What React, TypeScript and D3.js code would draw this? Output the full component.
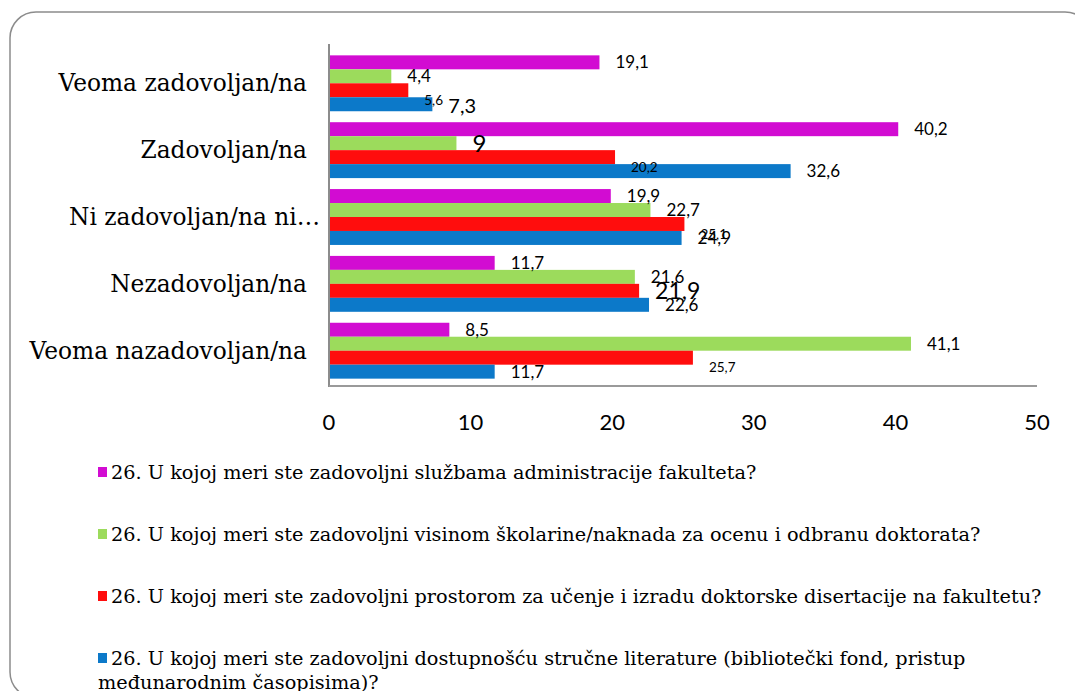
import React from 'react'
import { scaleLinear, scaleBand } from 'd3'

const categories = [
  'Veoma zadovoljan/na',
  'Zadovoljan/na',
  'Ni zadovoljan/na ni…',
  'Nezadovoljan/na',
  'Veoma nazadovoljan/na'
]

const seriesNames = [
  '26. U kojoj meri ste zadovoljni službama administracije fakulteta?',
  '26. U kojoj meri ste zadovoljni visinom školarine/naknada za ocenu i odbranu doktorata?',
  '26. U kojoj meri ste zadovoljni prostorom za učenje i izradu doktorske disertacije na fakultetu?',
  '26. U kojoj meri ste zadovoljni dostupnošću stručne literature (bibliotečki fond, pristup|međunarodnim časopisima)?'
]

const administracija = [19.1, 40.2, 19.9, 11.7, 8.5]
const skolarina = [4.4, 9, 22.7, 21.6, 41.1]
const prostor = [5.6, 20.2, 25.1, 21.9, 25.7]
const literatura = [7.3, 32.6, 24.9, 22.6, 11.7]

const xTicks = [0, 10, 20, 30, 40, 50]

const colors = ['#D20CD2', '#9CDB5C', '#FF0D0D', '#0C79C9']

// label quirks copied from the original (font size / vertical shift per series)
const labelSize = [17, 17, 13.5, 17]
const labelShift = [0, 0, 10, 0]
const labelOverrides: Record<string, { size: number; dy: number }> = {
  '1-1': { size: 24, dy: 0 },
  '0-3': { size: 20, dy: 2 },
  '3-2': { size: 23, dy: 0 }
}

const serif = '"DejaVu Serif", serif'
const sans = 'Lato, "Open Sans", sans-serif'

export default function App() {
  const values = [administracija, skolarina, prostor, literatura]

  const x = scaleLinear().domain([0, 50]).range([329, 1037])
  const y = scaleBand().domain(categories).range([48, 386]).paddingInner(0.164).paddingOuter(0.11)
  const inner = scaleBand<number>().domain([0, 1, 2, 3]).range([0, y.bandwidth()])

  const fmt = (v: number) => String(v).replace('.', ',')

  return (
    <svg width={1075} height={691} style={{ position: 'absolute', left: 0, top: 0, background: '#fff' }}>
      <rect x={10} y={12} width={1081} height={686} rx={26} ry={26} fill="#fff" stroke="#8c8c8c" strokeWidth={1.5} />

      {/* bars */}
      {values.map((series, si) => (
        <g key={si} fill={colors[si]}>
          {series.map((v, ci) => (
            <rect
              key={ci}
              x={x(0)}
              y={(y(categories[ci]) as number) + (inner(si) as number)}
              width={x(v) - x(0)}
              height={inner.bandwidth()}
            />
          ))}
        </g>
      ))}

      {/* axes */}
      <line x1={x(0)} x2={x(0)} y1={44} y2={387} stroke="#8c8c8c" strokeWidth={2} />
      <line x1={x(0)} x2={x(50)} y1={386} y2={386} stroke="#9a9a9a" strokeWidth={2} />

      {xTicks.map(t => (
        <text key={t} x={x(t)} y={430} textAnchor="middle" fontFamily={sans} fontSize={22} fill="#000">
          {t}
        </text>
      ))}

      {categories.map(c => (
        <text
          key={c}
          x={c.endsWith('…') ? 320 : 307}
          y={(y(c) as number) + y.bandwidth() / 2}
          dy="0.35em"
          textAnchor="end"
          fontFamily={serif}
          fontSize={23.3}
          fill="#000"
        >
          {c}
        </text>
      ))}

      {/* data labels */}
      {values.map((series, si) =>
        series.map((v, ci) => {
          const o = labelOverrides[`${ci}-${si}`]
          const size = o ? o.size : labelSize[si]
          const dy = o ? o.dy : labelShift[si]
          const cy = (y(categories[ci]) as number) + (inner(si) as number) + inner.bandwidth() / 2
          return (
            <text
              key={`${si}-${ci}`}
              x={x(v) + 16}
              y={cy + dy}
              dy="0.35em"
              fontFamily={sans}
              fontSize={size}
              fill="#000"
            >
              {fmt(v)}
            </text>
          )
        })
      )}

      {/* legend */}
      {seriesNames.map((name, i) => {
        const top = 472 + i * 62
        const lines = name.split('|')
        return (
          <g key={i}>
            <rect x={98} y={top - 5} width={9} height={10} fill={colors[i]} />
            {lines.map((ln, li) => (
              <text
                key={li}
                x={li === 0 ? 111 : 98}
                y={top + li * 24}
                dy="0.35em"
                fontFamily={serif}
                fontSize={19.3}
                fill="#000"
              >
                {ln}
              </text>
            ))}
          </g>
        )
      })}
    </svg>
  )
}
